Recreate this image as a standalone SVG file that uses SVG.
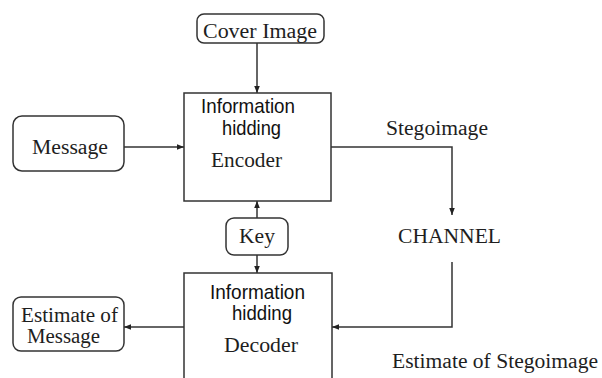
<svg xmlns="http://www.w3.org/2000/svg" width="602" height="378" viewBox="0 0 602 378">
<defs>
<style>
.box{fill:#fff;stroke:#333;stroke-width:1.5}
.rbox{fill:#fff;stroke:#333;stroke-width:1.5}
.serif{font-family:"Liberation Serif","Times New Roman",serif;font-size:20px;fill:#1e1e1e}
.sans{font-family:"Liberation Sans",Arial,sans-serif;font-size:21px;fill:#111}
.conn{fill:none;stroke:#333;stroke-width:1.5}
</style>
<marker id="ah" viewBox="0 0 10 10" refX="10" refY="5" markerWidth="7" markerHeight="7" markerUnits="userSpaceOnUse" orient="auto">
<path d="M0,1 L10,5 L0,9 z" fill="#222"/>
</marker>
</defs>
<rect width="602" height="378" fill="#fff"/>
<g id="connectors">
<line class="conn" x1="257" y1="43" x2="257" y2="93" marker-end="url(#ah)"/>
<line class="conn" x1="124" y1="147" x2="184" y2="147" marker-end="url(#ah)"/>
<polyline class="conn" points="331,147 452,147 452,215" marker-end="url(#ah)"/>
<line class="conn" x1="257" y1="218" x2="257" y2="201" marker-end="url(#ah)"/>
<line class="conn" x1="257" y1="255" x2="257" y2="273" marker-end="url(#ah)"/>
<polyline class="conn" points="452,262 452,327 332,327" marker-end="url(#ah)"/>
<line class="conn" x1="184" y1="327" x2="124" y2="327" marker-end="url(#ah)"/>
</g>
<g id="cover">
<rect class="rbox" x="197" y="14" width="127" height="29" rx="7"/>
<text class="serif" x="203" y="38" textLength="114" lengthAdjust="spacingAndGlyphs">Cover Image</text>
</g>
<g id="message">
<rect class="rbox" x="13" y="116" width="111" height="55" rx="9"/>
<text class="serif" x="32" y="154" textLength="76" lengthAdjust="spacingAndGlyphs">Message</text>
</g>
<g id="encoder">
<rect class="box" x="184" y="93" width="147" height="108"/>
<text class="sans" x="201" y="113" textLength="94" lengthAdjust="spacingAndGlyphs">Information</text>
<text class="sans" x="222" y="135" textLength="59" lengthAdjust="spacingAndGlyphs">hidding</text>
<text class="serif" x="211" y="167" textLength="71" lengthAdjust="spacingAndGlyphs">Encoder</text>
</g>
<g id="stegoimage">
<text class="serif" x="386" y="135" textLength="102" lengthAdjust="spacingAndGlyphs">Stegoimage</text>
</g>
<g id="channel">
<text class="serif" x="398" y="243" textLength="103" lengthAdjust="spacingAndGlyphs">CHANNEL</text>
</g>
<g id="key">
<rect class="rbox" x="226" y="218" width="62" height="37" rx="8"/>
<text class="serif" x="239" y="243" textLength="36" lengthAdjust="spacingAndGlyphs">Key</text>
</g>
<g id="decoder">
<rect class="box" x="184" y="273" width="148" height="112"/>
<text class="sans" x="210" y="299" textLength="95" lengthAdjust="spacingAndGlyphs">Information</text>
<text class="sans" x="232" y="320" textLength="60" lengthAdjust="spacingAndGlyphs">hidding</text>
<text class="serif" x="224" y="352" textLength="74" lengthAdjust="spacingAndGlyphs">Decoder</text>
</g>
<g id="estimate-message">
<rect class="rbox" x="13" y="297" width="111" height="54" rx="8"/>
<text class="serif" x="21" y="322" textLength="97" lengthAdjust="spacingAndGlyphs">Estimate of</text>
<text class="serif" x="27" y="343" textLength="73" lengthAdjust="spacingAndGlyphs">Message</text>
</g>
<g id="estimate-stegoimage">
<text class="serif" x="392" y="368" textLength="206" lengthAdjust="spacingAndGlyphs">Estimate of Stegoimage</text>
</g>
</svg>
